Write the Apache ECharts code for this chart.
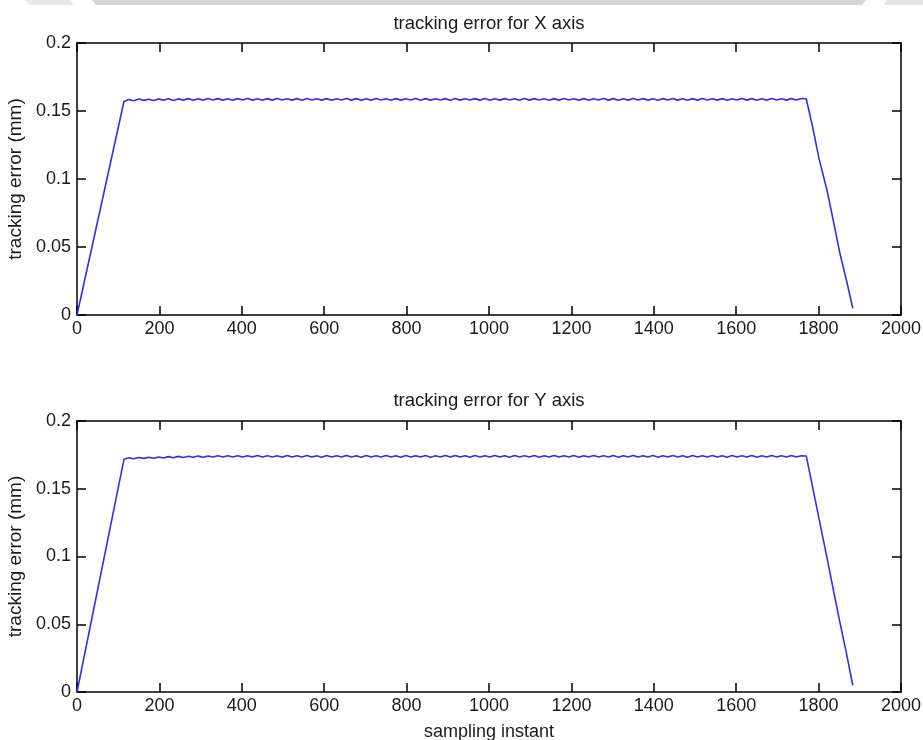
<!DOCTYPE html>
<html>
<head>
<meta charset="utf-8">
<script src="https://cdn.jsdelivr.net/npm/echarts@6/dist/echarts.min.js"></script>
<style>html,body{margin:0;padding:0;background:#fff;}#c{width:923px;height:740px;}</style>
</head>
<body>
<div id="c"></div>
<script>
// sampling instants (shared by both plots)
const sampleX = [0,
114,126,138,150,162,174,186,198,210,222,234,246,258,270,282,294,306,318,330,342,354,366,378,390,402,414,426,438,450,462,
474,486,498,510,522,534,546,558,570,582,594,606,618,630,642,654,666,678,690,702,714,726,738,750,762,774,786,798,810,822,
834,846,858,870,882,894,906,918,930,942,954,966,978,990,1002,1014,1026,1038,1050,1062,1074,1086,1098,1110,1122,1134,1146,1158,1170,1182,
1194,1206,1218,1230,1242,1254,1266,1278,1290,1302,1314,1326,1338,1350,1362,1374,1386,1398,1410,1422,1434,1446,1458,1470,1482,1494,1506,1518,1530,1542,
1554,1566,1578,1590,1602,1614,1626,1638,1650,1662,1674,1686,1698,1710,1722,1734,1746,1758,1770,
1785,1801,1821,1840,1852,1868,1883];

// tracking error for X axis (mm)
const errX = [0,
0.1570,0.1585,0.1576,0.1588,0.1578,0.1587,0.1577,0.1589,0.1579,0.1590,
0.1578,0.1589,0.1580,0.1591,0.1579,0.1590,0.1580,0.1592,0.1581,0.1591,
0.1580,0.1590,0.1579,0.1591,0.1581,0.1592,0.1580,0.1590,0.1579,0.1591,
0.1580,0.1592,0.1581,0.1590,0.1580,0.1591,0.1579,0.1592,0.1581,0.1590,
0.1580,0.1591,0.1579,0.1590,0.1581,0.1592,0.1580,0.1591,0.1579,0.1590,
0.1580,0.1592,0.1581,0.1590,0.1579,0.1591,0.1580,0.1590,0.1581,0.1592,
0.1579,0.1591,0.1580,0.1590,0.1581,0.1591,0.1579,0.1592,0.1580,0.1590,
0.1581,0.1591,0.1580,0.1592,0.1579,0.1590,0.1580,0.1591,0.1581,0.1590,
0.1579,0.1592,0.1580,0.1591,0.1581,0.1590,0.1579,0.1591,0.1580,0.1592,
0.1581,0.1590,0.1580,0.1591,0.1579,0.1590,0.1581,0.1592,0.1580,0.1591,
0.1579,0.1590,0.1580,0.1592,0.1581,0.1591,0.1580,0.1590,0.1579,0.1591,
0.1581,0.1592,0.1580,0.1590,0.1579,0.1591,0.1580,0.1592,0.1581,0.1590,
0.1580,0.1591,0.1579,0.1590,0.1581,0.1592,0.1580,0.1591,0.1579,0.1590,
0.1580,0.1592,0.1581,0.1590,0.1580,0.1591,0.1581,0.1592,0.1590,
0.139,0.115,0.091,0.063,0.045,0.025,0.005];

// tracking error for Y axis (mm)
const errY = [0,
0.1717,0.1728,0.1722,0.1731,0.1724,0.1733,0.1725,0.1735,0.1727,0.1737,
0.1729,0.1739,0.1731,0.1740,0.1732,0.1741,0.1733,0.1742,0.1734,0.1743,
0.1734,0.1744,0.1735,0.1743,0.1734,0.1744,0.1735,0.1745,0.1734,0.1744,
0.1735,0.1744,0.1733,0.1745,0.1734,0.1744,0.1735,0.1746,0.1734,0.1744,
0.1733,0.1745,0.1735,0.1744,0.1734,0.1746,0.1735,0.1744,0.1733,0.1745,
0.1734,0.1744,0.1735,0.1745,0.1734,0.1744,0.1733,0.1746,0.1735,0.1744,
0.1734,0.1745,0.1733,0.1744,0.1735,0.1745,0.1734,0.1746,0.1735,0.1744,
0.1733,0.1745,0.1734,0.1744,0.1735,0.1746,0.1734,0.1744,0.1733,0.1745,
0.1735,0.1744,0.1734,0.1745,0.1733,0.1744,0.1735,0.1746,0.1734,0.1744,
0.1735,0.1745,0.1733,0.1744,0.1734,0.1746,0.1735,0.1744,0.1734,0.1745,
0.1733,0.1744,0.1735,0.1745,0.1734,0.1744,0.1735,0.1746,0.1733,0.1744,
0.1734,0.1745,0.1735,0.1744,0.1733,0.1746,0.1734,0.1744,0.1735,0.1745,
0.1734,0.1744,0.1733,0.1745,0.1735,0.1744,0.1734,0.1746,0.1733,0.1744,
0.1735,0.1745,0.1734,0.1744,0.1735,0.1746,0.1734,0.1744,0.1742,
0.152,0.128,0.098,0.069,0.051,0.028,0.005];

const titles = ['tracking error for X axis', 'tracking error for Y axis'];
const yName = 'tracking error (mm)';
const xName = 'sampling instant';

const FONT = "'Liberation Sans', Arial, sans-serif";
const n = Math.min(sampleX.length, errX.length, errY.length);
const dataX = [], dataY = [];
for (let i = 0; i < n; i++) { dataX.push([sampleX[i], errX[i]]); dataY.push([sampleX[i], errY[i]]); }

const axisLine = {show: true, onZero: false, lineStyle: {color: '#000', width: 1.5}};
const tick = {show: true, inside: true, length: 9, lineStyle: {color: '#000', width: 1.5}};
const lbl = {color: '#1a1a1a', fontSize: 18, fontFamily: FONT};

function xAx(grid, pos, withLabels, name) {
  return {
    type: 'value', gridIndex: grid, position: pos, min: 0, max: 2000, interval: 200,
    axisLine: axisLine, axisTick: tick, splitLine: {show: false},
    axisLabel: Object.assign({show: withLabels, margin: 5, formatter: v => String(v)}, lbl),
    name: name || '', nameLocation: 'middle', nameGap: 31,
    nameTextStyle: {color: '#1a1a1a', fontSize: 18, fontFamily: FONT}
  };
}
function yAx(grid, pos, withLabels) {
  return {
    type: 'value', gridIndex: grid, position: pos, min: 0, max: 0.2, interval: 0.05,
    axisLine: axisLine, axisTick: tick, splitLine: {show: false},
    axisLabel: Object.assign({show: withLabels, margin: 6}, lbl),
    name: withLabels ? yName : '', nameLocation: 'middle', nameGap: 47,
    nameTextStyle: {color: '#1a1a1a', fontSize: 19, fontFamily: FONT}
  };
}

const chart = echarts.init(document.getElementById('c'), null, {renderer: 'canvas'});
chart.setOption({
  animation: false,
  backgroundColor: '#fff',
  graphic: [
    {type: 'polygon', shape: {points: [[24,0],[70,0],[74,5],[30,5]]}, style: {fill: '#e8e8e8'}, silent: true},
    {type: 'polygon', shape: {points: [[92,0],[866,0],[862,5],[96,5]]}, style: {fill: '#d5d5d5'}, silent: true},
    {type: 'polygon', shape: {points: [[886,0],[923,0],[923,5],[884,5]]}, style: {fill: '#e4e4e4'}, silent: true}
  ],
  title: [
    {text: titles[0], left: 489, top: 14, textAlign: 'center', padding: 0,
     textStyle: {fontSize: 18.5, fontWeight: 'normal', color: '#1a1a1a', fontFamily: FONT}},
    {text: titles[1], left: 489, top: 391, textAlign: 'center', padding: 0,
     textStyle: {fontSize: 18.5, fontWeight: 'normal', color: '#1a1a1a', fontFamily: FONT}}
  ],
  grid: [
    {left: 77, top: 43, width: 824, height: 272, containLabel: false, outerBoundsMode: 'none'},
    {left: 77, top: 421, width: 824, height: 271, containLabel: false, outerBoundsMode: 'none'}
  ],
  xAxis: [xAx(0, 'bottom', true), xAx(0, 'top', false), xAx(1, 'bottom', true, xName), xAx(1, 'top', false)],
  yAxis: [yAx(0, 'left', true), yAx(0, 'right', false), yAx(1, 'left', true), yAx(1, 'right', false)],
  series: [
    {type: 'line', xAxisIndex: 0, yAxisIndex: 0, data: dataX, showSymbol: false,
     lineStyle: {color: '#3030f0', width: 1.6}},
    {type: 'line', xAxisIndex: 2, yAxisIndex: 2, data: dataY, showSymbol: false,
     lineStyle: {color: '#3030f0', width: 1.6}}
  ]
});
</script>
</body>
</html>
